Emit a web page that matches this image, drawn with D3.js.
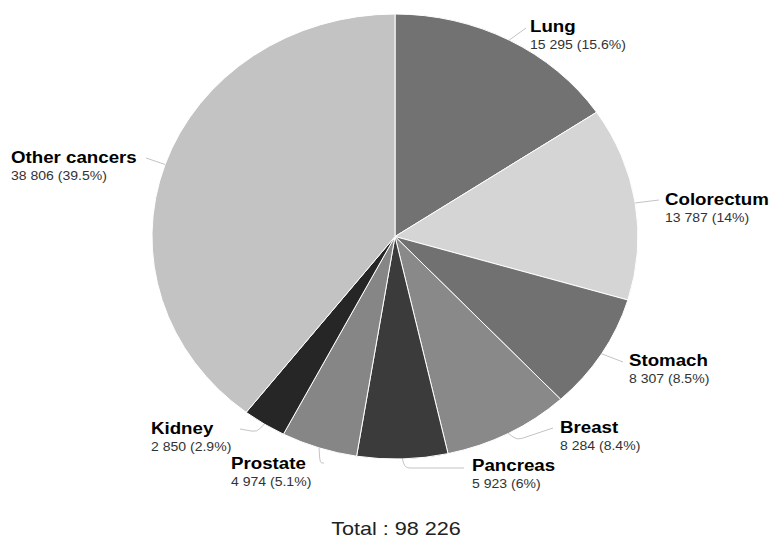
<!DOCTYPE html>
<meta charset="utf-8">
<style>
  body { margin: 0; background: #fff; }
  svg { font-family: 'Liberation Sans', Arial, sans-serif; }
  .name { font-weight: bold; fill: #000; }
  .val { fill: #333; }
</style>
<script src="https://d3js.org/d3.v7.min.js"></script>
<body>
<svg id="chart" width="770" height="538"></svg>
<script>

// data
var categories = ["Lung", "Colorectum", "Stomach", "Breast", "Pancreas", "Prostate", "Kidney", "Other cancers"];
var cases = [15295, 13787, 8307, 8284, 5923, 4974, 2850, 38806];
var percents = ["15.6%", "14%", "8.5%", "8.4%", "6%", "5.1%", "2.9%", "39.5%"];
var greys = ["#727272", "#d5d5d5", "#717171", "#898989", "#3b3b3b", "#868686", "#262626", "#c3c3c3"];

// label layout: name baseline, x, connector elbow and end
var labelPos = [
  {x: 530, y: 32,  elbow: null,      end: [526, 28]},
  {x: 665, y: 205, elbow: null,      end: [659, 200]},
  {x: 629, y: 366, elbow: null,      end: [623, 362]},
  {x: 560, y: 433, elbow: [517, 440], end: [553, 428]},
  {x: 472, y: 471, elbow: [405, 468], end: [464, 468]},
  {x: 231, y: 469, elbow: [320, 463], end: [324, 463]},
  {x: 151, y: 434, elbow: [257, 432], end: [240, 429]},
  {x: 11,  y: 163, elbow: null,      end: [146, 158]}
];

var svg = d3.select("#chart");
var cx = 395, cy = 236.5, ry = 222.5, rx = 243;
var fmt = d3.format(",");
function spaced(v) { return fmt(v).replace(/,/g, " "); }

var pie = d3.pie().sort(null).value(function(d) { return d; });
var arcs = pie(cases);
var arc = d3.arc().innerRadius(0).outerRadius(ry);

var g = svg.append("g")
  .attr("transform", "translate(" + cx + "," + cy + ") scale(" + (rx / ry) + ",1)");

g.selectAll("path")
  .data(arcs)
  .enter()
  .append("path")
    .attr("d", arc)
    .attr("fill", function(d, i) { return greys[i]; })
    .attr("stroke", "#fff")
    .attr("stroke-width", 1)
    .attr("vector-effect", "non-scaling-stroke");

// connectors
function corner(p0, e, p2) {
  function toward(a, b, r) {
    var dx = b[0] - a[0], dy = b[1] - a[1], l = Math.sqrt(dx * dx + dy * dy) || 1;
    var k = Math.min(r, l / 2) / l;
    return [a[0] + dx * k, a[1] + dy * k];
  }
  var a = toward(e, p0, 5), b = toward(e, p2, 5);
  return "M" + p0 + "L" + a + "Q" + e + " " + b + "L" + p2;
}

svg.append("g").selectAll("path")
  .data(arcs)
  .enter()
  .append("path")
    .attr("fill", "none")
    .attr("stroke", "#c4c4c4")
    .attr("stroke-width", 1)
    .attr("d", function(d, i) {
      var a = (d.startAngle + d.endAngle) / 2;
      var p0 = [cx + rx * Math.sin(a), cy - ry * Math.cos(a)];
      var lp = labelPos[i];
      if (lp.elbow) return corner(p0, lp.elbow, lp.end);
      return "M" + p0 + "L" + lp.end;
    });

// labels
var labels = svg.append("g").selectAll("g")
  .data(categories)
  .enter()
  .append("g");

labels.append("text")
  .attr("class", "name")
  .attr("font-size", 17)
  .attr("transform", function(d, i) { return "translate(" + labelPos[i].x + "," + labelPos[i].y + ") scale(1.1,1)"; })
  .text(function(d) { return d; });

labels.append("text")
  .attr("class", "val")
  .attr("font-size", 13)
  .attr("transform", function(d, i) { return "translate(" + labelPos[i].x + "," + (labelPos[i].y + 16.5) + ") scale(1.08,1)"; })
  .text(function(d, i) { return spaced(cases[i]) + " (" + percents[i] + ")"; });

// total
svg.append("text")
  .attr("text-anchor", "middle")
  .attr("font-size", 18)
  .attr("fill", "#222")
  .attr("transform", "translate(396,535) scale(1.2,1)")
  .text("Total : " + spaced(d3.sum(cases)));

</script>
</body>
